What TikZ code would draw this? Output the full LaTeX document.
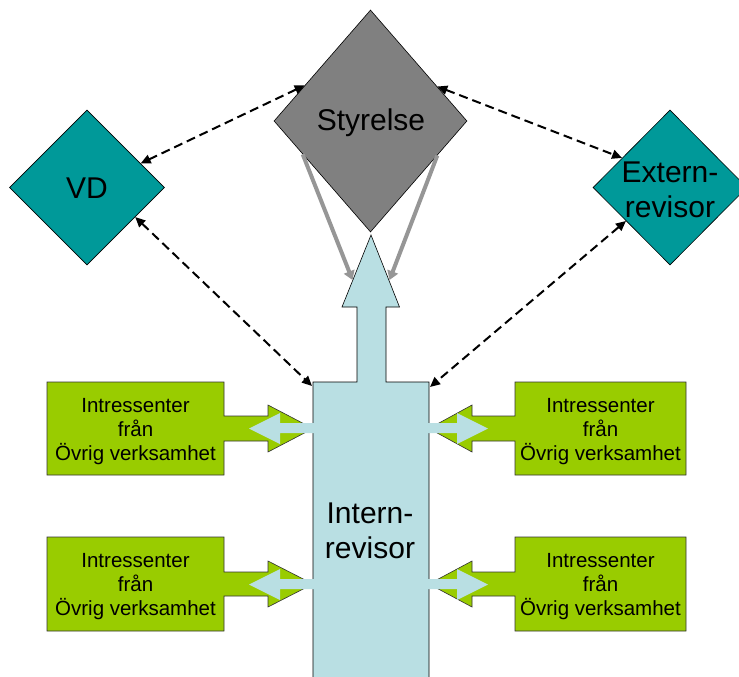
\documentclass[tikz,border=0pt]{standalone}
\usepackage{fontspec}
\setmainfont{Liberation Sans}
\usetikzlibrary{shapes.geometric,arrows.meta,calc}
\definecolor{boardgray}{RGB}{128,128,128}
\definecolor{feedgray}{RGB}{150,150,150}
\definecolor{tealfill}{RGB}{0,153,153}
\definecolor{stakegreen}{RGB}{153,204,0}
\definecolor{auditblue}{RGB}{185,223,227}
\begin{document}
\begin{tikzpicture}[x=1pt,y=-1pt,
  diam/.style={diamond, draw=black, line width=0.6pt, inner sep=0pt, aspect=1},
  bigtext/.style={font=\fontsize{30}{35}\selectfont, align=center, inner sep=0pt},
  smalltext/.style={font=\fontsize{20.5}{24}\selectfont, align=center, inner sep=0pt},
  link/.style={line width=2pt, dash pattern=on 9pt off 5pt,
    {Triangle[length=10pt,width=9pt]}-{Triangle[length=10pt,width=9pt]}},
  feed/.style={draw=feedgray, line width=4pt, -{Triangle[length=9pt,width=11pt]}},
  callout/.style={fill=stakegreen, draw=black!80, line width=0.6pt},
  twoway/.style={fill=auditblue}]
\useasboundingbox (0,0) rectangle (739,677);
\clip (0,0) rectangle (739,677);

% board, managing director and external auditor
\node[diam, fill=boardgray, minimum width=193pt, minimum height=222pt] (sty) at (370.5,121) {};
\node[diam, fill=tealfill, minimum width=155pt, minimum height=155pt] (vd) at (87,187.5) {};
\node[diam, fill=tealfill, minimum width=154pt, minimum height=155pt] (ext) at (670,187.5) {};

% stakeholder boxes with their pointer arrows
\draw[callout] (47,382) -- (224,382) -- (224,416) -- (268,416) -- (268,405) -- (313,428.5)
  -- (268,452) -- (268,441) -- (224,441) -- (224,475) -- (47,475) -- cycle;
\draw[callout] (47,537) -- (224,537) -- (224,572) -- (268,572) -- (268,561) -- (313,584)
  -- (268,607) -- (268,596) -- (224,596) -- (224,631) -- (47,631) -- cycle;
\draw[callout] (686,382) -- (515,382) -- (515,416) -- (472,416) -- (472,405) -- (429,428.5)
  -- (472,452) -- (472,441) -- (515,441) -- (515,475) -- (686,475) -- cycle;
\draw[callout] (686,537) -- (515,537) -- (515,572) -- (472,572) -- (472,561) -- (429,584)
  -- (472,607) -- (472,596) -- (515,596) -- (515,631) -- (686,631) -- cycle;

% internal auditor column with its arrow towards the board
\draw[fill=auditblue, line width=0.6pt] (313,700) -- (313,382) -- (357,382) -- (357,307)
  -- (342,307) -- (371,235) -- (399.5,307) -- (386,307) -- (386,382) -- (429,382) -- (429,700);

% two-way exchange arrows
\fill[twoway] (314,423) -- (280,423) -- (280,413) -- (249,428.5) -- (280,444) -- (280,433) -- (314,433) -- cycle;
\fill[twoway] (314,579) -- (280,579) -- (280,569) -- (249,584.5) -- (280,600) -- (280,589) -- (314,589) -- cycle;
\fill[twoway] (428,423) -- (457,423) -- (457,413) -- (488,428.5) -- (457,444) -- (457,433) -- (428,433) -- cycle;
\fill[twoway] (428,579) -- (457,579) -- (457,569) -- (488,584.5) -- (457,600) -- (457,589) -- (428,589) -- cycle;

% anchor points on the internal auditor column
\coordinate (intTL) at (312,386);
\coordinate (intTR) at (430,387);
\coordinate (headL) at (352.5,280);
\coordinate (headR) at (389.5,280);

% reporting lines from the board
\draw[feed] ($(sty.west)!0.3!(sty.south)$) -- (headL);
\draw[feed] ($(sty.east)!0.31!(sty.south)$) -- (headR);

% dashed relations
\draw[link] ($(sty.west)!0.32!(sty.north)$) -- ($(vd.north)!0.69!(vd.east)$);
\draw[link] ($(sty.north)!0.69!(sty.east)$) -- ($(ext.north)!0.62!(ext.west)$);
\draw[link] ($(vd.east)!0.38!(vd.south)$) -- (intTL);
\draw[link] ($(ext.west)!0.43!(ext.south)$) -- (intTR);

% labels
\node[bigtext] (tsty) at (371,123) {Styrelse};
\node[bigtext] (tvd) at (87,188) {VD};
\node[bigtext] (text) at (670,190) {Extern-\\revisor};
\node[bigtext] (tint) at (370,531) {Intern-\\revisor};
\node[smalltext] (s1) at (135.5,432) {Intressenter\\från\\Övrig verksamhet};
\node[smalltext] (s2) at (135.5,587) {Intressenter\\från\\Övrig verksamhet};
\node[smalltext] (s3) at (600.5,432) {Intressenter\\från\\Övrig verksamhet};
\node[smalltext] (s4) at (600.5,587) {Intressenter\\från\\Övrig verksamhet};
\end{tikzpicture}
\end{document}
